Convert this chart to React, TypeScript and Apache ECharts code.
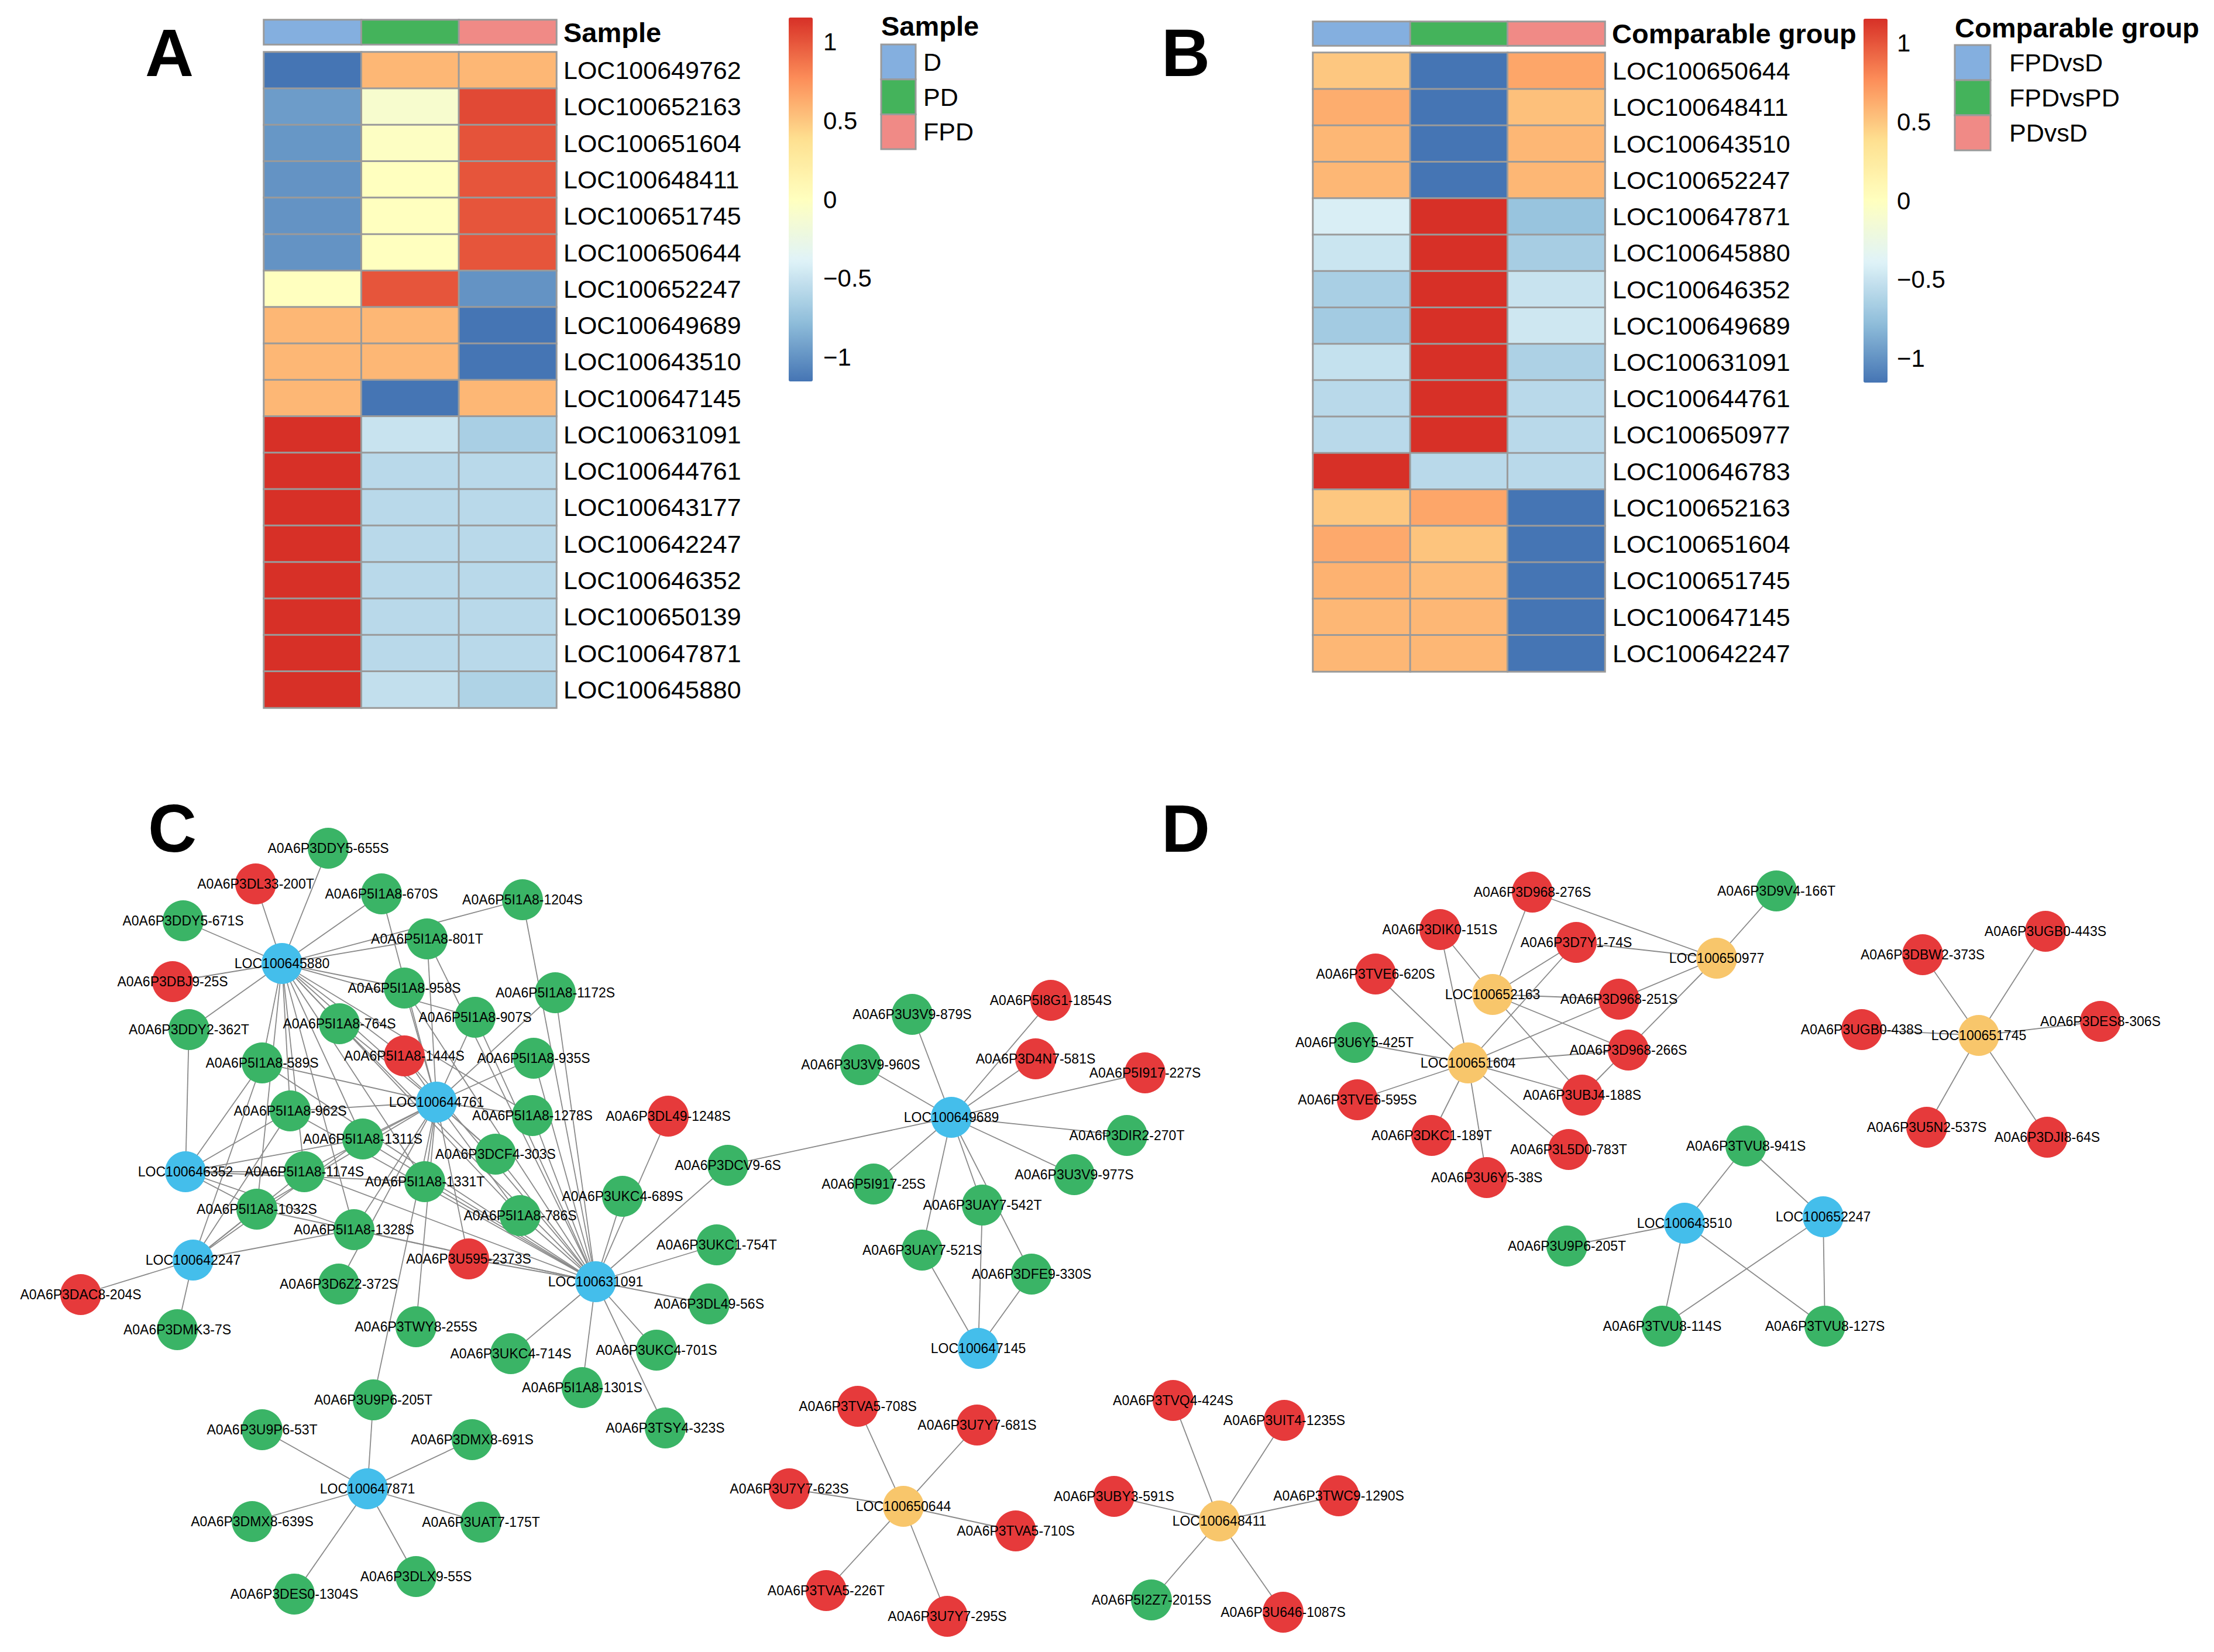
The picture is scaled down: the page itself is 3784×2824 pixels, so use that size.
import React, { useEffect, useRef } from "react";
import * as echarts from "echarts";

const W = 3784;
const H = 2824;
const FONT = "'Liberation Sans', Arial, Helvetica, sans-serif";

// ---------------- Panel A data ----------------
const sampleGroups = ["D", "PD", "FPD"];
const genesA = [
  "LOC100649762", "LOC100652163", "LOC100651604", "LOC100648411", "LOC100651745",
  "LOC100650644", "LOC100652247", "LOC100649689", "LOC100643510", "LOC100647145",
  "LOC100631091", "LOC100644761", "LOC100643177", "LOC100642247", "LOC100646352",
  "LOC100650139", "LOC100647871", "LOC100645880",
];
const valuesA = [
  [-1.155, 0.577, 0.577],
  [-0.95, -0.1, 1.05],
  [-0.98, -0.03, 1.01],
  [-1.0, 0.0, 1.0],
  [-1.0, 0.0, 1.0],
  [-1.0, 0.0, 1.0],
  [0.0, 1.0, -1.0],
  [0.577, 0.577, -1.155],
  [0.577, 0.577, -1.155],
  [0.577, -1.155, 0.577],
  [1.155, -0.5, -0.655],
  [1.155, -0.577, -0.577],
  [1.155, -0.577, -0.577],
  [1.155, -0.577, -0.577],
  [1.155, -0.577, -0.577],
  [1.155, -0.577, -0.577],
  [1.155, -0.577, -0.577],
  [1.155, -0.53, -0.625],
];

// ---------------- Panel B data ----------------
const compGroups = ["FPDvsD", "FPDvsPD", "PDvsD"];
const genesB = [
  "LOC100650644", "LOC100648411", "LOC100643510", "LOC100652247", "LOC100647871",
  "LOC100645880", "LOC100646352", "LOC100649689", "LOC100631091", "LOC100644761",
  "LOC100650977", "LOC100646783", "LOC100652163", "LOC100651604", "LOC100651745",
  "LOC100647145", "LOC100642247",
];
const valuesB = [
  [0.5, -1.155, 0.655],
  [0.62, -1.155, 0.535],
  [0.577, -1.155, 0.577],
  [0.577, -1.155, 0.577],
  [-0.42, 1.155, -0.735],
  [-0.49, 1.155, -0.665],
  [-0.655, 1.155, -0.5],
  [-0.68, 1.155, -0.475],
  [-0.52, 1.155, -0.635],
  [-0.577, 1.155, -0.577],
  [-0.577, 1.155, -0.577],
  [1.155, -0.577, -0.577],
  [0.5, 0.655, -1.155],
  [0.64, 0.515, -1.155],
  [0.6, 0.555, -1.155],
  [0.577, 0.577, -1.155],
  [0.577, 0.577, -1.155],
];

const scaleMin = -1.1547;
const scaleMax = 1.1547;
const tickMin = -1;
const tickMax = 1;
const tickStep = 0.5;

const heatPalette = ["#4575B4", "#91BFDB", "#E0F3F8", "#FFFFBF", "#FEE090", "#FC8D59", "#D73027"];
const annoColors = ["#84AFDF", "#44B35B", "#F08A86"];

// ---------------- Network data ----------------
type NT = "blue" | "yellow" | "red" | "green";
const nodeTypes: NT[] = ["blue", "yellow", "red", "green"];
const nodeColors: Record<NT, string> = {
  blue: "#44BEEB",
  yellow: "#F8C66B",
  red: "#E63A3B",
  green: "#3AB466",
};

const cNodes: [string, NT][] = [
  ["LOC100645880", "blue"], ["LOC100644761", "blue"], ["LOC100646352", "blue"],
  ["LOC100642247", "blue"], ["LOC100631091", "blue"], ["LOC100647871", "blue"],
  ["LOC100649689", "blue"], ["LOC100647145", "blue"], ["LOC100650644", "yellow"],
  ["LOC100648411", "yellow"],
  ["A0A6P3DDY5-655S", "green"], ["A0A6P3DL33-200T", "red"], ["A0A6P5I1A8-670S", "green"],
  ["A0A6P5I1A8-1204S", "green"], ["A0A6P3DDY5-671S", "green"], ["A0A6P5I1A8-801T", "green"],
  ["A0A6P3DBJ9-25S", "red"], ["A0A6P5I1A8-958S", "green"], ["A0A6P5I1A8-1172S", "green"],
  ["A0A6P5I1A8-907S", "green"], ["A0A6P5I1A8-764S", "green"], ["A0A6P3DDY2-362T", "green"],
  ["A0A6P5I1A8-1444S", "red"], ["A0A6P5I1A8-935S", "green"], ["A0A6P5I1A8-589S", "green"],
  ["A0A6P5I1A8-962S", "green"], ["A0A6P5I1A8-1278S", "green"], ["A0A6P3DL49-1248S", "red"],
  ["A0A6P5I1A8-1311S", "green"], ["A0A6P3DCF4-303S", "green"], ["A0A6P3DCV9-6S", "green"],
  ["A0A6P5I1A8-1174S", "green"], ["A0A6P5I1A8-1331T", "green"], ["A0A6P3UKC4-689S", "green"],
  ["A0A6P5I1A8-1032S", "green"], ["A0A6P5I1A8-786S", "green"], ["A0A6P5I1A8-1328S", "green"],
  ["A0A6P3UKC1-754T", "green"], ["A0A6P3U595-2373S", "red"], ["A0A6P3D6Z2-372S", "green"],
  ["A0A6P3DAC8-204S", "red"], ["A0A6P3DL49-56S", "green"], ["A0A6P3DMK3-7S", "green"],
  ["A0A6P3TWY8-255S", "green"], ["A0A6P3UKC4-714S", "green"], ["A0A6P3UKC4-701S", "green"],
  ["A0A6P5I1A8-1301S", "green"], ["A0A6P3U9P6-205T", "green"], ["A0A6P3U9P6-53T", "green"],
  ["A0A6P3DMX8-691S", "green"], ["A0A6P3TSY4-323S", "green"], ["A0A6P3DMX8-639S", "green"],
  ["A0A6P3UAT7-175T", "green"], ["A0A6P3DLX9-55S", "green"], ["A0A6P3DES0-1304S", "green"],
  ["A0A6P3U3V9-879S", "green"], ["A0A6P5I8G1-1854S", "red"], ["A0A6P3U3V9-960S", "green"],
  ["A0A6P3D4N7-581S", "red"], ["A0A6P5I917-227S", "red"], ["A0A6P3DIR2-270T", "green"],
  ["A0A6P3U3V9-977S", "green"], ["A0A6P5I917-25S", "green"], ["A0A6P3UAY7-542T", "green"],
  ["A0A6P3UAY7-521S", "green"], ["A0A6P3DFE9-330S", "green"],
  ["A0A6P3TVA5-708S", "red"], ["A0A6P3U7Y7-681S", "red"], ["A0A6P3U7Y7-623S", "red"],
  ["A0A6P3TVA5-710S", "red"], ["A0A6P3TVA5-226T", "red"], ["A0A6P3U7Y7-295S", "red"],
  ["A0A6P3TVQ4-424S", "red"], ["A0A6P3UIT4-1235S", "red"], ["A0A6P3UBY3-591S", "red"],
  ["A0A6P3TWC9-1290S", "red"], ["A0A6P5I2Z7-2015S", "green"], ["A0A6P3U646-1087S", "red"],
];

const cStars: [string, string[]][] = [
  ["LOC100645880", ["A0A6P3DDY5-655S", "A0A6P3DL33-200T", "A0A6P3DDY5-671S", "A0A6P3DBJ9-25S", "A0A6P3DDY2-362T", "A0A6P5I1A8-670S", "A0A6P5I1A8-801T", "A0A6P5I1A8-1204S", "A0A6P5I1A8-958S", "A0A6P5I1A8-764S", "A0A6P5I1A8-589S", "A0A6P5I1A8-962S", "A0A6P5I1A8-1311S", "A0A6P5I1A8-1174S", "A0A6P5I1A8-1032S", "A0A6P5I1A8-1331T", "A0A6P5I1A8-1328S", "A0A6P5I1A8-1444S", "A0A6P5I1A8-907S", "A0A6P5I1A8-1278S", "A0A6P5I1A8-786S", "A0A6P3DCF4-303S"]],
  ["LOC100644761", ["A0A6P5I1A8-589S", "A0A6P5I1A8-962S", "A0A6P5I1A8-764S", "A0A6P5I1A8-1444S", "A0A6P5I1A8-958S", "A0A6P5I1A8-907S", "A0A6P5I1A8-935S", "A0A6P5I1A8-801T", "A0A6P5I1A8-1172S", "A0A6P5I1A8-1311S", "A0A6P5I1A8-1174S", "A0A6P5I1A8-1331T", "A0A6P5I1A8-1032S", "A0A6P5I1A8-1328S", "A0A6P5I1A8-1278S", "A0A6P3DCF4-303S", "A0A6P5I1A8-786S", "A0A6P3U9P6-205T", "A0A6P3TWY8-255S", "A0A6P3D6Z2-372S", "A0A6P3U595-2373S", "A0A6P5I1A8-670S"]],
  ["LOC100646352", ["A0A6P3DDY2-362T", "A0A6P5I1A8-589S", "A0A6P5I1A8-962S", "A0A6P5I1A8-1311S", "A0A6P5I1A8-1174S", "A0A6P5I1A8-1032S", "A0A6P5I1A8-1331T", "A0A6P5I1A8-1328S"]],
  ["LOC100642247", ["A0A6P5I1A8-589S", "A0A6P5I1A8-962S", "A0A6P5I1A8-1174S", "A0A6P5I1A8-1032S", "A0A6P5I1A8-1311S", "A0A6P5I1A8-1328S", "A0A6P3DAC8-204S", "A0A6P3DMK3-7S"]],
  ["LOC100631091", ["A0A6P5I1A8-1204S", "A0A6P5I1A8-1172S", "A0A6P5I1A8-935S", "A0A6P5I1A8-1278S", "A0A6P3DCF4-303S", "A0A6P5I1A8-786S", "A0A6P5I1A8-1331T", "A0A6P5I1A8-1311S", "A0A6P5I1A8-1174S", "A0A6P5I1A8-1032S", "A0A6P5I1A8-962S", "A0A6P5I1A8-589S", "A0A6P5I1A8-764S", "A0A6P5I1A8-1444S", "A0A6P5I1A8-958S", "A0A6P5I1A8-907S", "A0A6P5I1A8-801T", "A0A6P3U595-2373S", "A0A6P3DL49-1248S", "A0A6P3UKC4-689S", "A0A6P3DCV9-6S", "A0A6P3UKC1-754T", "A0A6P3DL49-56S", "A0A6P3UKC4-714S", "A0A6P3UKC4-701S", "A0A6P5I1A8-1301S", "A0A6P3TSY4-323S", "A0A6P5I1A8-1328S"]],
  ["LOC100647871", ["A0A6P3U9P6-205T", "A0A6P3U9P6-53T", "A0A6P3DMX8-691S", "A0A6P3DMX8-639S", "A0A6P3UAT7-175T", "A0A6P3DLX9-55S", "A0A6P3DES0-1304S"]],
  ["LOC100649689", ["A0A6P3U3V9-879S", "A0A6P5I8G1-1854S", "A0A6P3U3V9-960S", "A0A6P3D4N7-581S", "A0A6P5I917-227S", "A0A6P3DIR2-270T", "A0A6P3U3V9-977S", "A0A6P5I917-25S", "A0A6P3UAY7-542T", "A0A6P3UAY7-521S", "A0A6P3DFE9-330S", "A0A6P3DCV9-6S"]],
  ["LOC100647145", ["A0A6P3UAY7-542T", "A0A6P3UAY7-521S", "A0A6P3DFE9-330S"]],
  ["LOC100650644", ["A0A6P3TVA5-708S", "A0A6P3U7Y7-681S", "A0A6P3U7Y7-623S", "A0A6P3TVA5-710S", "A0A6P3TVA5-226T", "A0A6P3U7Y7-295S"]],
  ["LOC100648411", ["A0A6P3TVQ4-424S", "A0A6P3UIT4-1235S", "A0A6P3UBY3-591S", "A0A6P3TWC9-1290S", "A0A6P5I2Z7-2015S", "A0A6P3U646-1087S"]],
];

const dNodes: [string, NT][] = [
  ["LOC100650977", "yellow"], ["LOC100652163", "yellow"], ["LOC100651604", "yellow"],
  ["LOC100651745", "yellow"], ["LOC100643510", "blue"], ["LOC100652247", "blue"],
  ["A0A6P3D968-276S", "red"], ["A0A6P3D9V4-166T", "green"], ["A0A6P3DIK0-151S", "red"],
  ["A0A6P3D7Y1-74S", "red"], ["A0A6P3TVE6-620S", "red"], ["A0A6P3D968-251S", "red"],
  ["A0A6P3U6Y5-425T", "green"], ["A0A6P3D968-266S", "red"], ["A0A6P3UBJ4-188S", "red"],
  ["A0A6P3TVE6-595S", "red"], ["A0A6P3DKC1-189T", "red"], ["A0A6P3L5D0-783T", "red"],
  ["A0A6P3U6Y5-38S", "red"], ["A0A6P3UGB0-443S", "red"], ["A0A6P3DBW2-373S", "red"],
  ["A0A6P3UGB0-438S", "red"], ["A0A6P3DES8-306S", "red"], ["A0A6P3U5N2-537S", "red"],
  ["A0A6P3DJI8-64S", "red"], ["A0A6P3TVU8-941S", "green"], ["A0A6P3U9P6-205T", "green"],
  ["A0A6P3TVU8-114S", "green"], ["A0A6P3TVU8-127S", "green"],
];

const dStars: [string, string[]][] = [
  ["LOC100650977", ["A0A6P3D968-276S", "A0A6P3D9V4-166T", "A0A6P3D7Y1-74S", "A0A6P3D968-251S", "A0A6P3UBJ4-188S"]],
  ["LOC100652163", ["A0A6P3DIK0-151S", "A0A6P3D968-276S", "A0A6P3D7Y1-74S", "A0A6P3D968-251S", "A0A6P3D968-266S", "A0A6P3UBJ4-188S"]],
  ["LOC100651604", ["A0A6P3TVE6-620S", "A0A6P3DIK0-151S", "A0A6P3D7Y1-74S", "A0A6P3D968-251S", "A0A6P3U6Y5-425T", "A0A6P3D968-266S", "A0A6P3UBJ4-188S", "A0A6P3TVE6-595S", "A0A6P3DKC1-189T", "A0A6P3U6Y5-38S", "A0A6P3L5D0-783T"]],
  ["LOC100651745", ["A0A6P3UGB0-443S", "A0A6P3DBW2-373S", "A0A6P3UGB0-438S", "A0A6P3DES8-306S", "A0A6P3U5N2-537S", "A0A6P3DJI8-64S"]],
  ["LOC100643510", ["A0A6P3TVU8-941S", "A0A6P3U9P6-205T", "A0A6P3TVU8-114S", "A0A6P3TVU8-127S"]],
  ["LOC100652247", ["A0A6P3TVU8-941S", "A0A6P3TVU8-114S", "A0A6P3TVU8-127S"]],
];

// ---------------- Layout (pixel positions of the network drawing) ----------------
const cLayout: Record<string, [number, number]> = {
  "LOC100645880": [482, 1647], "LOC100644761": [746, 1884], "LOC100646352": [317, 2003],
  "LOC100642247": [330, 2154], "LOC100631091": [1018, 2191], "LOC100647871": [628, 2545],
  "LOC100649689": [1626, 1910], "LOC100647145": [1672, 2305], "LOC100650644": [1544, 2575],
  "LOC100648411": [2084, 2600],
  "A0A6P3DDY5-655S": [561, 1450], "A0A6P3DL33-200T": [437, 1511], "A0A6P5I1A8-670S": [652, 1528],
  "A0A6P5I1A8-1204S": [893, 1538], "A0A6P3DDY5-671S": [313, 1574], "A0A6P5I1A8-801T": [730, 1605],
  "A0A6P3DBJ9-25S": [295, 1678], "A0A6P5I1A8-958S": [691, 1689], "A0A6P5I1A8-1172S": [949, 1697],
  "A0A6P5I1A8-907S": [812, 1739], "A0A6P5I1A8-764S": [580, 1750], "A0A6P3DDY2-362T": [323, 1760],
  "A0A6P5I1A8-1444S": [691, 1805], "A0A6P5I1A8-935S": [912, 1809], "A0A6P5I1A8-589S": [448, 1817],
  "A0A6P5I1A8-962S": [496, 1899], "A0A6P5I1A8-1278S": [910, 1907], "A0A6P3DL49-1248S": [1142, 1908],
  "A0A6P5I1A8-1311S": [620, 1947], "A0A6P3DCF4-303S": [847, 1973], "A0A6P3DCV9-6S": [1244, 1992],
  "A0A6P5I1A8-1174S": [520, 2003], "A0A6P5I1A8-1331T": [726, 2020], "A0A6P3UKC4-689S": [1064, 2045],
  "A0A6P5I1A8-1032S": [439, 2067], "A0A6P5I1A8-786S": [889, 2078], "A0A6P5I1A8-1328S": [605, 2102],
  "A0A6P3UKC1-754T": [1225, 2128], "A0A6P3U595-2373S": [801, 2152], "A0A6P3D6Z2-372S": [579, 2195],
  "A0A6P3DAC8-204S": [138, 2213], "A0A6P3DL49-56S": [1212, 2229], "A0A6P3DMK3-7S": [303, 2273],
  "A0A6P3TWY8-255S": [711, 2268], "A0A6P3UKC4-714S": [873, 2314], "A0A6P3UKC4-701S": [1122, 2308],
  "A0A6P5I1A8-1301S": [995, 2372], "A0A6P3U9P6-205T": [638, 2393], "A0A6P3U9P6-53T": [448, 2444],
  "A0A6P3DMX8-691S": [807, 2461], "A0A6P3TSY4-323S": [1137, 2441], "A0A6P3DMX8-639S": [431, 2601],
  "A0A6P3UAT7-175T": [822, 2602], "A0A6P3DLX9-55S": [711, 2695], "A0A6P3DES0-1304S": [503, 2725],
  "A0A6P3U3V9-879S": [1559, 1734], "A0A6P5I8G1-1854S": [1796, 1710], "A0A6P3U3V9-960S": [1471, 1820],
  "A0A6P3D4N7-581S": [1770, 1810], "A0A6P5I917-227S": [1957, 1834], "A0A6P3DIR2-270T": [1926, 1941],
  "A0A6P3U3V9-977S": [1836, 2008], "A0A6P5I917-25S": [1493, 2024], "A0A6P3UAY7-542T": [1679, 2060],
  "A0A6P3UAY7-521S": [1576, 2137], "A0A6P3DFE9-330S": [1763, 2178],
  "A0A6P3TVA5-708S": [1466, 2404], "A0A6P3U7Y7-681S": [1670, 2436], "A0A6P3U7Y7-623S": [1349, 2545],
  "A0A6P3TVA5-710S": [1736, 2617], "A0A6P3TVA5-226T": [1412, 2719], "A0A6P3U7Y7-295S": [1619, 2763],
  "A0A6P3TVQ4-424S": [2005, 2394], "A0A6P3UIT4-1235S": [2195, 2428], "A0A6P3UBY3-591S": [1904, 2558],
  "A0A6P3TWC9-1290S": [2288, 2557], "A0A6P5I2Z7-2015S": [1968, 2735], "A0A6P3U646-1087S": [2193, 2756],
};

const dLayout: Record<string, [number, number]> = {
  "LOC100650977": [2934, 1638], "LOC100652163": [2551, 1700], "LOC100651604": [2509, 1817],
  "LOC100651745": [3382, 1770], "LOC100643510": [2879, 2091], "LOC100652247": [3116, 2080],
  "A0A6P3D968-276S": [2619, 1525], "A0A6P3D9V4-166T": [3036, 1523], "A0A6P3DIK0-151S": [2461, 1589],
  "A0A6P3D7Y1-74S": [2694, 1611], "A0A6P3TVE6-620S": [2351, 1665], "A0A6P3D968-251S": [2767, 1708],
  "A0A6P3U6Y5-425T": [2315, 1782], "A0A6P3D968-266S": [2783, 1795], "A0A6P3UBJ4-188S": [2704, 1872],
  "A0A6P3TVE6-595S": [2320, 1880], "A0A6P3DKC1-189T": [2447, 1941], "A0A6P3L5D0-783T": [2681, 1965],
  "A0A6P3U6Y5-38S": [2541, 2013], "A0A6P3UGB0-443S": [3496, 1592], "A0A6P3DBW2-373S": [3286, 1632],
  "A0A6P3UGB0-438S": [3182, 1760], "A0A6P3DES8-306S": [3590, 1746], "A0A6P3U5N2-537S": [3293, 1927],
  "A0A6P3DJI8-64S": [3499, 1944], "A0A6P3TVU8-941S": [2984, 1959], "A0A6P3U9P6-205T": [2678, 2130],
  "A0A6P3TVU8-114S": [2841, 2267], "A0A6P3TVU8-127S": [3119, 2267],
};

// ---------------- Layout of the heatmaps ----------------
const A = { left: 451, width: 500, annoTop: 34, annoH: 42, top: 89, height: 1121 };
const B = { left: 2244, width: 499, annoTop: 37, annoH: 41, top: 90, height: 1058 };
const barA = { left: 1348, top: 30, width: 41, height: 622, labelGap: 18 };
const barB = { left: 3185, top: 32, width: 41, height: 622, labelGap: 16 };

function tickGrid(bar: typeof barA) {
  const span = scaleMax - scaleMin;
  const top = bar.top + ((scaleMax - tickMax) / span) * bar.height;
  const height = ((tickMax - tickMin) / span) * bar.height;
  return { left: bar.left, top, width: bar.width, height };
}

function buildGraph(nodes: [string, NT][], layout: Record<string, [number, number]>, stars: [string, string[]][]) {
  const data = nodes.map(([name, t]) => ({
    name,
    value: layout[name],
    category: nodeTypes.indexOf(t),
  }));
  const links: { source: string; target: string }[] = [];
  stars.forEach(([hub, targets]) => targets.forEach((t) => links.push({ source: hub, target: t })));
  return {
    type: "graph",
    coordinateSystem: "cartesian2d",
    xAxisIndex: 6,
    yAxisIndex: 6,
    layout: "none",
    silent: true,
    symbol: "circle",
    symbolSize: 70,
    categories: nodeTypes.map((t) => ({ name: t, itemStyle: { color: nodeColors[t] } })),
    data,
    links,
    label: {
      show: true,
      position: "inside",
      fontSize: 23,
      fontFamily: FONT,
      color: "#000",
    },
    lineStyle: { color: "#8a8a8a", width: 1.8, opacity: 1, curveness: 0 },
    emphasis: { disabled: true },
  };
}

const minusFmt = (v: number) => String(v).replace("-", "\u2212");

export default function App() {
  const ref = useRef<HTMLDivElement>(null);
  useEffect(() => {
    if (!ref.current) return;
    const chart = echarts.init(ref.current, undefined, { renderer: "svg" });

    const heatA = valuesA.flatMap((row, r) => row.map((v, c) => [c, r, v]));
    const heatB = valuesB.flatMap((row, r) => row.map((v, c) => [c, r, v]));
    const annoA = sampleGroups.map((_, i) => [i, 0, i]);
    const annoB = compGroups.map((_, i) => [i, 0, i]);

    const tgA = tickGrid(barA);
    const tgB = tickGrid(barB);

    const geneLabel = { fontSize: 43, color: "#000", fontFamily: FONT, margin: 12 };
    const titleLabel = { fontSize: 47, color: "#000", fontFamily: FONT, fontWeight: "bold", margin: 12 };
    const hiddenAxis = { show: false };

    const cellStyle = { borderColor: "#9a9a9a", borderWidth: 3 };

    const legendGraphic = (x: number, y0: number, w: number, h: number, labelX: number, title: string, titleY: number, labels: string[]) => {
      const els: any[] = [
        {
          type: "text",
          x,
          y: titleY,
          style: { text: title, fontSize: 47, fontWeight: "bold", fontFamily: FONT, fill: "#000", align: "left", verticalAlign: "middle" },
        },
      ];
      labels.forEach((lab, i) => {
        els.push({
          type: "rect",
          shape: { x, y: y0 + i * h, width: w, height: h },
          style: { fill: annoColors[i], stroke: "#9a9a9a", lineWidth: 3 },
        });
        els.push({
          type: "text",
          x: labelX,
          y: y0 + i * h + h / 2,
          style: { text: lab, fontSize: 43, fontFamily: FONT, fill: "#000", align: "left", verticalAlign: "middle" },
        });
      });
      return els;
    };

    const letter = (t: string, x: number, y: number) => ({
      type: "text",
      x,
      y,
      style: { text: t, fontSize: 115, fontWeight: "bold", fontFamily: FONT, fill: "#000", align: "left", verticalAlign: "middle" },
    });

    const option: any = {
      animation: false,
      backgroundColor: "#fff",
      textStyle: { fontFamily: FONT },
      grid: [
        { left: A.left, top: A.annoTop, width: A.width, height: A.annoH },
        { left: A.left, top: A.top, width: A.width, height: A.height },
        { left: B.left, top: B.annoTop, width: B.width, height: B.annoH },
        { left: B.left, top: B.top, width: B.width, height: B.height },
        tgA,
        tgB,
        { left: 0, top: 0, width: W, height: H },
      ],
      xAxis: [
        { gridIndex: 0, type: "category", data: sampleGroups, ...hiddenAxis },
        { gridIndex: 1, type: "category", data: sampleGroups, ...hiddenAxis },
        { gridIndex: 2, type: "category", data: compGroups, ...hiddenAxis },
        { gridIndex: 3, type: "category", data: compGroups, ...hiddenAxis },
        { gridIndex: 4, type: "value", ...hiddenAxis },
        { gridIndex: 5, type: "value", ...hiddenAxis },
        { gridIndex: 6, type: "value", min: 0, max: W, ...hiddenAxis },
      ],
      yAxis: [
        {
          gridIndex: 0, type: "category", data: ["Sample"], position: "right",
          axisLine: { show: false }, axisTick: { show: false }, axisLabel: titleLabel,
        },
        {
          gridIndex: 1, type: "category", data: genesA, inverse: true, position: "right",
          axisLine: { show: false }, axisTick: { show: false }, axisLabel: { ...geneLabel, interval: 0 },
        },
        {
          gridIndex: 2, type: "category", data: ["Comparable group"], position: "right",
          axisLine: { show: false }, axisTick: { show: false }, axisLabel: titleLabel,
        },
        {
          gridIndex: 3, type: "category", data: genesB, inverse: true, position: "right",
          axisLine: { show: false }, axisTick: { show: false }, axisLabel: { ...geneLabel, margin: 13, interval: 0 },
        },
        {
          gridIndex: 4, type: "value", min: tickMin, max: tickMax, interval: tickStep, position: "right",
          axisLine: { show: false }, axisTick: { show: false }, splitLine: { show: false },
          axisLabel: { fontSize: 42, color: "#000", fontFamily: FONT, margin: barA.labelGap, formatter: minusFmt },
        },
        {
          gridIndex: 5, type: "value", min: tickMin, max: tickMax, interval: tickStep, position: "right",
          axisLine: { show: false }, axisTick: { show: false }, splitLine: { show: false },
          axisLabel: { fontSize: 42, color: "#000", fontFamily: FONT, margin: barB.labelGap, formatter: minusFmt },
        },
        { gridIndex: 6, type: "value", min: 0, max: H, inverse: true, ...hiddenAxis },
      ],
      visualMap: [
        {
          type: "piecewise",
          show: false,
          seriesIndex: [0, 2],
          dimension: 2,
          pieces: annoColors.map((c, i) => ({ value: i, color: c })),
        },
        {
          type: "continuous",
          seriesIndex: 1,
          dimension: 2,
          min: scaleMin,
          max: scaleMax,
          inRange: { color: heatPalette },
          left: barA.left,
          top: barA.top,
          itemWidth: barA.width,
          itemHeight: barA.height,
          calculable: false,
          hoverLink: false,
          padding: 0,
          text: null,
        },
        {
          type: "continuous",
          seriesIndex: 3,
          dimension: 2,
          min: scaleMin,
          max: scaleMax,
          inRange: { color: heatPalette },
          left: barB.left,
          top: barB.top,
          itemWidth: barB.width,
          itemHeight: barB.height,
          calculable: false,
          hoverLink: false,
          padding: 0,
          text: null,
        },
      ],
      series: [
        { type: "heatmap", xAxisIndex: 0, yAxisIndex: 0, data: annoA, itemStyle: cellStyle, emphasis: { disabled: true }, silent: true },
        { type: "heatmap", xAxisIndex: 1, yAxisIndex: 1, data: heatA, itemStyle: cellStyle, emphasis: { disabled: true }, silent: true },
        { type: "heatmap", xAxisIndex: 2, yAxisIndex: 2, data: annoB, itemStyle: cellStyle, emphasis: { disabled: true }, silent: true },
        { type: "heatmap", xAxisIndex: 3, yAxisIndex: 3, data: heatB, itemStyle: cellStyle, emphasis: { disabled: true }, silent: true },
        buildGraph(cNodes, cLayout, cStars),
        buildGraph(dNodes, dLayout, dStars),
      ],
      graphic: [
        letter("A", 248, 90),
        letter("B", 1985, 90),
        letter("C", 253, 1416),
        letter("D", 1985, 1416),
        ...legendGraphic(1506, 76, 59, 59.7, 1578, "Sample", 44, sampleGroups),
        ...legendGraphic(3341, 77, 61, 60, 3434, "Comparable group", 47, compGroups),
      ],
    };

    chart.setOption(option);
    return () => chart.dispose();
  }, []);

  return <div ref={ref} style={{ position: "absolute", left: 0, top: 0, width: W, height: H, background: "#fff" }} />;
}
